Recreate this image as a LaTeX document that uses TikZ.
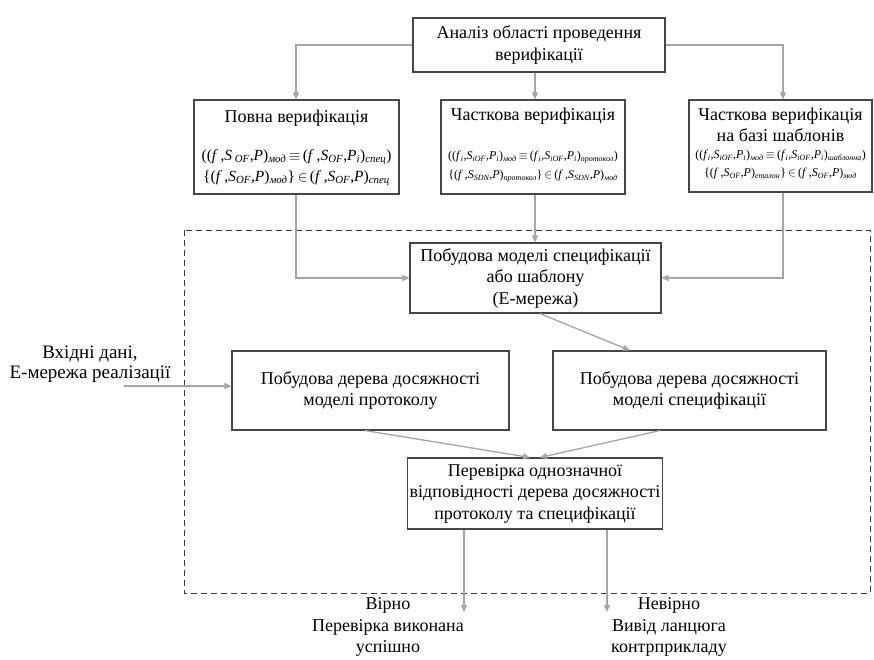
\documentclass[tikz,border=0pt]{standalone}
\usepackage{fontspec}
\setmainfont{Liberation Serif}
\usetikzlibrary{arrows.meta,shadows}
\definecolor{boxline}{RGB}{70,70,70}
\definecolor{arrowc}{RGB}{165,165,165}
\definecolor{dashc}{RGB}{60,60,60}
\newcommand{\sbx}[1]{\textsubscript{\itshape #1}}
\newcommand{\iv}[1]{\textit{#1}}
\tikzset{
  box/.style={draw=boxline, line width=1.1pt, fill=white, align=center,
    inner sep=2pt, font=\fontsize{18}{21.5}\selectfont,
    drop shadow={shadow xshift=1.2pt, shadow yshift=-1.2pt, opacity=0.25}},
  plain/.style={align=center, inner sep=0pt, font=\fontsize{18}{21.5}\selectfont},
  fml/.style={align=center, inner sep=0pt},
  arr/.style={draw=arrowc, line width=1.3pt, -{Triangle[length=7pt,width=6pt]}},
}
\begin{document}
\begin{tikzpicture}[x=1pt,y=-1pt]
\useasboundingbox (0,0) rectangle (874,659);
% dashed region
\draw[dashc, line width=1pt, dash pattern=on 6pt off 4pt] (184,230) rectangle (870,593);

% boxes
\node[box, minimum width=252pt, minimum height=54pt] (top) at (539,45)
  {Аналіз області проведення\\верифікації};
\node[box, minimum width=205pt, minimum height=94pt] (full) at (296.5,147) {};
\node[box, minimum width=184pt, minimum height=94pt] (part) at (533,147) {};
\node[box, minimum width=183pt, minimum height=92pt] (templ) at (780.5,146) {};

\node[plain] (fullT) at (296.5,118) {Повна верифікація};
\node[fml, font=\fontsize{15.5}{16}\selectfont] (fullF1) at (296.5,157)
  {((\iv{f}\,,\iv{S}\,\sbx{OF},\iv{P})\sbx{мод}\,$\equiv$\,(\iv{f}\,,\iv{S}\sbx{OF},\iv{P}\sbx{i})\sbx{спец})};
\node[fml, font=\fontsize{15.5}{16}\selectfont] (fullF2) at (296.5,178)
  {\{(\iv{f}\,,\iv{S}\sbx{OF},\iv{P})\sbx{мод}\}\,$\in$\,(\iv{f}\,,\iv{S}\sbx{OF},\iv{P})\sbx{спец}};

\node[plain] (partT) at (533,116) {Часткова верифікація};
\node[fml, font=\fontsize{12}{14}\selectfont] (partF1) at (533,157)
  {((\iv{f}\sbx{i},\iv{S}\sbx{iOF},\iv{P}\sbx{i})\sbx{мод}\,$\equiv$\,(\iv{f}\sbx{i},\iv{S}\sbx{iOF},\iv{P}\sbx{i})\sbx{протокол})};
\node[fml, font=\fontsize{12}{14}\selectfont] (partF2) at (533,176)
  {\{(\iv{f}\,,\iv{S}\sbx{SDN},\iv{P})\sbx{протокол}\}\,$\in$\,(\iv{f}\,,\iv{S}\sbx{SDN},\iv{P})\sbx{мод}};

\node[plain] (templT) at (780.5,125) {Часткова верифікація\\на базі шаблонів};
\node[fml, font=\fontsize{12}{14}\selectfont] (templF1) at (780.5,156)
  {((\iv{f}\sbx{i},\iv{S}\sbx{iOF},\iv{P}\sbx{i})\sbx{мод}\,$\equiv$\,(\iv{f}\sbx{i},\iv{S}\sbx{iOF},\iv{P}\sbx{i})\sbx{шаблонна})};
\node[fml, font=\fontsize{12}{14}\selectfont] (templF2) at (780.5,174)
  {\{(\iv{f}\,,\iv{S}\sbx{OF},\iv{P})\sbx{еталон}\}\,$\in$\,(\iv{f}\,,\iv{S}\sbx{OF},\iv{P})\sbx{мод}};

\node[box, minimum width=251pt, minimum height=70pt] (model) at (535.5,278)
  {Побудова моделі специфікації\\або шаблону\\(Е-мережа)};
\node[box, minimum width=277pt, minimum height=79pt] (treeP) at (370.5,390.5)
  {Побудова дерева досяжності\\моделі протоколу};
\node[box, minimum width=273pt, minimum height=79pt] (treeS) at (689.5,390.5)
  {Побудова дерева досяжності\\моделі специфікації};
\node[box, minimum width=250pt, minimum height=71pt] (check) at (535,493.5)
  {Перевірка однозначної\\відповідності дерева досяжності\\протоколу та специфікації};

\node[plain, font=\fontsize{19}{20.5}\selectfont] (input) at (90,364) {Вхідні дані,\\Е-мережа реалізації};
\coordinate (inS) at (124,386);
\node[plain] (ok) at (388,627) {Вірно\\Перевірка виконана\\успішно};
\node[plain] (bad) at (669,627) {Невірно\\Вивід ланцюга\\контрприкладу};
\coordinate (okE) at (464,612);
\coordinate (badE) at (607,612);

% connectors
\draw[arr] (top.west) -| (full.north -| 296,0);
\draw[arr] (top.south -| 535,0) -- (part.north -| 535,0);
\draw[arr] (top.east) -| (templ.north -| 783,0);
\draw[arr] (full.south -| 296,0) |- (model.west);
\draw[arr] (part.south -| 535,0) -- (model.north -| 535,0);
\draw[arr] (templ.south -| 783,0) |- (model.east);
\draw[arr] (model.south -| 540,0) -- (treeS.north -| 630,0);
\draw[arr] (inS) -- (inS -| treeP.west);
\draw[arr] (treeP.south -| 365,0) -- (check.north -| 530,0);
\draw[arr] (treeS.south -| 660,0) -- (check.north -| 540,0);
\draw[arr] (check.south -| okE) -- (okE);
\draw[arr] (check.south -| badE) -- (badE);
\end{tikzpicture}
\end{document}
